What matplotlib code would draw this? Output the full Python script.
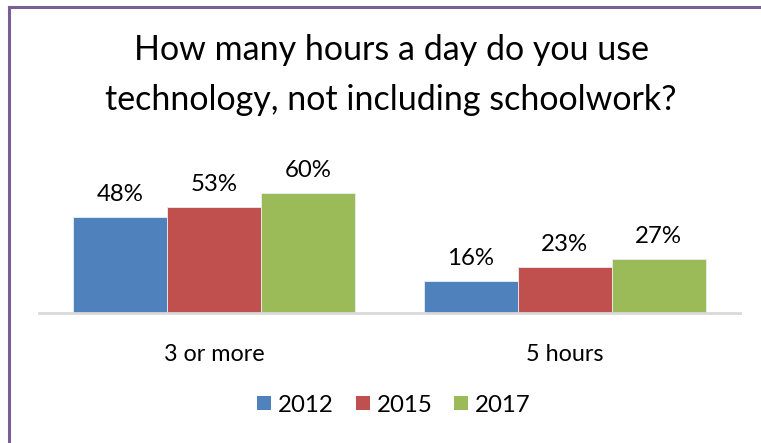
import numpy as np
import matplotlib
matplotlib.use("Agg")
import matplotlib.pyplot as plt
from matplotlib.patches import Patch
from matplotlib.lines import Line2D

# survey answers, percent of students
categories = ["3 or more", "5 hours"]
years = ["2012", "2015", "2017"]
pct_2012 = [48, 16]
pct_2015 = [53, 23]
pct_2017 = [60, 27]
series = [pct_2012, pct_2015, pct_2017]
colors = ["#4F81BD", "#C0504D", "#9BBB59"]

plt.rcParams["font.family"] = ["Lato", "DejaVu Sans"]

fig = plt.figure(figsize=(7.61, 4.43), dpi=100)
W, H = 761, 443

# axes in pixel coords: x 39..740, baseline at y=313
ax = fig.add_axes([39 / W, 1 - 313 / H, 701 / W, 140 / H])
ax.set_xlim(-0.5, 1.5)
ax.set_ylim(0, 70)

x = np.arange(len(categories))
bw = 0.268
for i, (vals, c) in enumerate(zip(series, colors)):
    pos = x + (i - 1) * bw
    bars = ax.bar(pos, vals, width=bw, color=c, edgecolor="#E8EEF5", linewidth=0.6, zorder=2)
    for p, v in zip(pos, vals):
        ax.text(p, v + 6.0, f"{v}%", ha="center", va="bottom", fontsize=17.3, clip_on=False)

for s in ["top", "right", "left"]:
    ax.spines[s].set_visible(False)
ax.spines["bottom"].set_color("#D9D9D9")
ax.spines["bottom"].set_linewidth(2)
ax.set_yticks([])
ax.set_xticks(x)
ax.set_xticklabels(categories, fontsize=16.8)
ax.tick_params(axis="x", length=0, pad=22)

fig.text(391 / W, 1 - 50 / H, "How many hours a day do you use", ha="center", va="center", fontsize=24.5)
fig.text(391 / W, 1 - 100 / H, "technology, not including schoolwork?", ha="center", va="center", fontsize=24.5)

handles = [Patch(facecolor=c, edgecolor="none") for c in colors]
fig.legend(handles, years, loc="center", bbox_to_anchor=(394 / W, 1 - 405 / H), ncol=3,
           frameon=False, fontsize=17.3, handlelength=0.58, handleheight=0.58,
           handletextpad=0.3, columnspacing=0.9)

# purple frame on the left and top edges
fig.add_artist(Line2D([9 / W, 9 / W], [0, 1 - 7 / H], color="#7A5F96", linewidth=2.2))
fig.add_artist(Line2D([9 / W, 1], [1 - 7 / H, 1 - 7 / H], color="#7A5F96", linewidth=2.2))

fig.savefig("out.png", dpi=100)
